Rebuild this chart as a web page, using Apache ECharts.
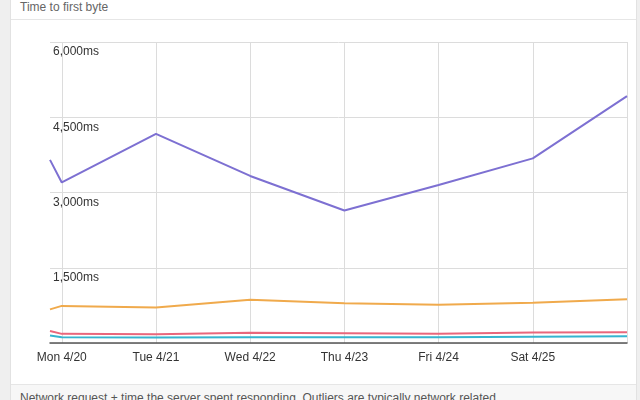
<!DOCTYPE html>
<html>
<head>
<meta charset="utf-8">
<script src="https://cdn.jsdelivr.net/npm/echarts@6/dist/echarts.min.js"></script>
<style>
  html, body { margin: 0; padding: 0; width: 640px; height: 400px; overflow: hidden; background: #efefef; font-family: "Liberation Sans", Arial, sans-serif; }
  #panel { position: absolute; left: 10px; top: -14px; width: 625px; height: 430px; background: #fff; border: 1px solid #e2e2e2; }
  #header { position: absolute; left: 0; top: 0; width: 100%; height: 32px; border-bottom: 1px solid #e6e6e6; }
  #header span { position: absolute; left: 9px; top: 13px; font-size: 12px; color: #666; }
  #footer { position: absolute; left: 0; top: 397px; width: 100%; height: 40px; background: #f7f7f7; border-top: 1px solid #e6e6e6; }
  #footer span { position: absolute; left: 9px; top: 6px; font-size: 12px; color: #555; white-space: nowrap; }
  #chart { position: absolute; left: 0; top: 0; width: 640px; height: 400px; }
</style>
</head>
<body>
<div id="panel">
  <div id="header"><span>Time to first byte</span></div>
  <div id="footer"><span>Network request + time the server spent responding. Outliers are typically network related.</span></div>
</div>
<div id="chart"></div>
<script>
// Sample times (local): Sun 4/19 21:00, then each midnight Mon 4/20 .. Sun 4/26 (2015)
const times = [
  new Date(2015, 3, 19, 21).getTime(),
  new Date(2015, 3, 20).getTime(),
  new Date(2015, 3, 21).getTime(),
  new Date(2015, 3, 22).getTime(),
  new Date(2015, 3, 23).getTime(),
  new Date(2015, 3, 24).getTime(),
  new Date(2015, 3, 25).getTime(),
  new Date(2015, 3, 26).getTime()
];
const purpleValues = [3650, 3200, 4170, 3330, 2640, 3150, 3680, 4920];
const orangeValues = [670, 740, 710, 860, 790, 760, 800, 870];
const redValues = [240, 182, 175, 205, 193, 186, 210, 213];
const cyanValues = [150, 113, 110, 113, 113, 115, 126, 133];
const yTicks = [0, 1500, 3000, 4500, 6000];
const dayNames = ['Sun', 'Mon', 'Tue', 'Wed', 'Thu', 'Fri', 'Sat'];

function pairs(vals) { return vals.map((v, i) => [times[i], v]); }
function mkSeries(name, vals, color, width) {
  return {
    name: name, type: 'line', data: pairs(vals), showSymbol: false, symbol: 'none',
    lineStyle: { color: color, width: width }, itemStyle: { color: color },
    animation: false
  };
}

const chart = echarts.init(document.getElementById('chart'), null, { renderer: 'canvas' });
chart.setOption({
  animation: false,
  grid: { left: 50, right: 13, top: 42, bottom: 57, containLabel: false },
  xAxis: {
    type: 'time',
    min: times[0],
    max: times[times.length - 1],
    minInterval: 86400000,
    maxInterval: 86400000,
    axisLine: { show: true, lineStyle: { color: '#555', width: 1.5 } },
    axisTick: { show: false },
    splitLine: { show: true, showMinLine: false, lineStyle: { color: '#dcdcdc', width: 1 } },
    axisLabel: {
      color: '#333', fontSize: 12, fontFamily: 'Liberation Sans, Arial, sans-serif', margin: 9,
      hideOverlap: false,
      formatter: function (v) {
        const d = new Date(v);
        if (d.getHours() !== 0 || d.getMinutes() !== 0) return '';
        if (v >= times[times.length - 1]) return '';
        return dayNames[d.getDay()] + ' ' + (d.getMonth() + 1) + '/' + d.getDate();
      }
    }
  },
  yAxis: {
    type: 'value',
    min: yTicks[0],
    max: yTicks[yTicks.length - 1],
    interval: yTicks[1] - yTicks[0],
    axisLine: { show: false },
    axisTick: { show: false },
    splitLine: { show: true, lineStyle: { color: '#dcdcdc', width: 1 } },
    axisLabel: {
      inside: true, showMinLabel: false, align: 'left', verticalAlign: 'top',
      margin: 3, padding: [4, 0, 0, 0],
      color: '#333', fontSize: 12, fontFamily: 'Liberation Sans, Arial, sans-serif',
      formatter: function (v) { return v === 0 ? '' : v.toLocaleString('en-US') + 'ms'; }
    }
  },
  series: [
    mkSeries('cyan', cyanValues, '#36b4cf', 2),
    mkSeries('red', redValues, '#e9677c', 2),
    mkSeries('orange', orangeValues, '#f0aa4c', 2),
    mkSeries('purple', purpleValues, '#7d70d2', 2)
  ]
});
</script>
</body>
</html>
